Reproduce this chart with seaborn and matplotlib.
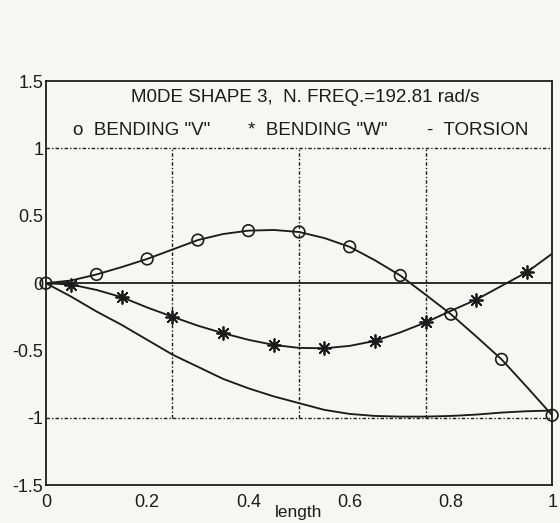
import numpy as np
import pandas as pd
import matplotlib
matplotlib.use("Agg")
from matplotlib import pyplot as plt
import seaborn as sns

# circles, bending "V" (markers every 0.1)
v_x = [0.0, 0.1, 0.2, 0.3, 0.4, 0.5, 0.6, 0.7, 0.8, 0.9, 1.0]
v_y = [0.0, 0.065, 0.18, 0.32, 0.39, 0.38, 0.27, 0.057, -0.23, -0.565, -0.98]
# curve through the circles, read every 0.05
v_line_x = [0.0, 0.05, 0.1, 0.15, 0.2, 0.25, 0.3, 0.35, 0.4, 0.45, 0.5,
            0.55, 0.6, 0.65, 0.7, 0.75, 0.8, 0.85, 0.9, 0.95, 1.0]
v_line_y = [0.0, 0.02, 0.065, 0.12, 0.18, 0.25, 0.32, 0.365, 0.39, 0.395, 0.38,
            0.335, 0.27, 0.17, 0.057, -0.085, -0.23, -0.395, -0.565, -0.77, -0.98]

# stars, bending "W"
w_x = [0.05, 0.15, 0.25, 0.35, 0.45, 0.55, 0.65, 0.75, 0.85, 0.95]
w_y = [-0.01, -0.104, -0.249, -0.371, -0.458, -0.483, -0.428, -0.291, -0.122, 0.082]
w_line_x = [0.0, 0.05, 0.1, 0.15, 0.2, 0.25, 0.3, 0.35, 0.4, 0.45, 0.5,
            0.55, 0.6, 0.65, 0.7, 0.75, 0.8, 0.85, 0.9, 0.95, 1.0]
w_line_y = [0.0, -0.01, -0.05, -0.104, -0.18, -0.249, -0.315, -0.371, -0.42, -0.458, -0.48,
            -0.483, -0.465, -0.428, -0.365, -0.291, -0.205, -0.122, -0.02, 0.082, 0.219]

# torsion, no markers
t_x = [0.0, 0.05, 0.1, 0.15, 0.2, 0.25, 0.3, 0.35, 0.4, 0.45, 0.5,
       0.55, 0.6, 0.65, 0.7, 0.75, 0.8, 0.85, 0.9, 0.95, 1.0]
t_y = [0.0, -0.1, -0.21, -0.31, -0.42, -0.53, -0.62, -0.71, -0.78, -0.84, -0.89,
       -0.94, -0.97, -0.985, -0.99, -0.99, -0.985, -0.975, -0.96, -0.95, -0.945]

x_ticks = [0, 0.2, 0.4, 0.6, 0.8, 1]
x_labels = ["0", "0.2", "0.4", "0.6", "0.8", "1"]
y_ticks = [-1.5, -1, -0.5, 0, 0.5, 1, 1.5]
y_labels = ["-1.5", "-1", "-0.5", "0", "0.5", "1", "1.5"]

title = "M0DE SHAPE 3,  N. FREQ.=192.81 rad/s"
legend_items = ['o  BENDING "V"', '*  BENDING "W"', '-  TORSION']

sns.set_theme(style="white")
plt.rcParams["font.family"] = ["Liberation Sans", "DejaVu Sans"]
plt.rcParams["axes.unicode_minus"] = False

ink = "#1c1c1c"
bg = "#f6f6f4"

fig = plt.figure(figsize=(5.6, 5.23), dpi=100, facecolor=bg)
ax = fig.add_axes([0.082, 0.072, 0.904, 0.773], facecolor=bg)

# dotted grid box
grid_style = dict(color=ink, lw=1.0, ls=(0, (2.5, 1.5, 1, 1.5)))
for gy in [1, -1]:
    ax.plot([0, 1], [gy, gy], **grid_style)
for gx in [0.25, 0.5, 0.75]:
    ax.plot([gx, gx], [-1, 1], **grid_style)
ax.plot([0, 1], [0, 0], color=ink, lw=1.3)

lines = pd.concat([
    pd.DataFrame({"x": v_line_x, "y": v_line_y, "s": "v"}),
    pd.DataFrame({"x": w_line_x, "y": w_line_y, "s": "w"}),
    pd.DataFrame({"x": t_x, "y": t_y, "s": "t"}),
])
sns.lineplot(data=lines, x="x", y="y", units="s", estimator=None, sort=False,
             color=ink, lw=1.35, ax=ax)

sns.scatterplot(x=v_x, y=v_y, marker="o", s=70, facecolor="none",
                edgecolor=ink, linewidth=1.2, ax=ax, clip_on=False, zorder=5)
sns.scatterplot(x=w_x, y=w_y, marker=(8, 2, 0), s=85, color=ink,
                linewidth=1.3, ax=ax, clip_on=False, zorder=5)

ax.text(0.513, 1.375, title, ha="center", va="center", fontsize=13.5, color=ink)
for lx, txt in zip([0.054, 0.40, 0.753], legend_items):
    ax.text(lx, 1.13, txt, ha="left", va="center", fontsize=13.5, color=ink)

ax.set_xlim(0, 1)
ax.set_ylim(-1.5, 1.5)
ax.set_xticks(x_ticks)
ax.set_xticklabels(x_labels)
ax.set_yticks(y_ticks)
ax.set_yticklabels(y_labels)
ax.tick_params(direction="in", length=5, width=1.1, colors=ink, labelsize=13,
               labelcolor=ink)
ax.tick_params(axis="x", pad=6)
ax.tick_params(axis="y", pad=2)
ax.set_xlabel("length", fontsize=12.5, color=ink, labelpad=-4)
ax.set_ylabel("")
for sp in ax.spines.values():
    sp.set_color(ink)
    sp.set_linewidth(1.3)

fig.savefig("out.png", dpi=100, facecolor=bg)
